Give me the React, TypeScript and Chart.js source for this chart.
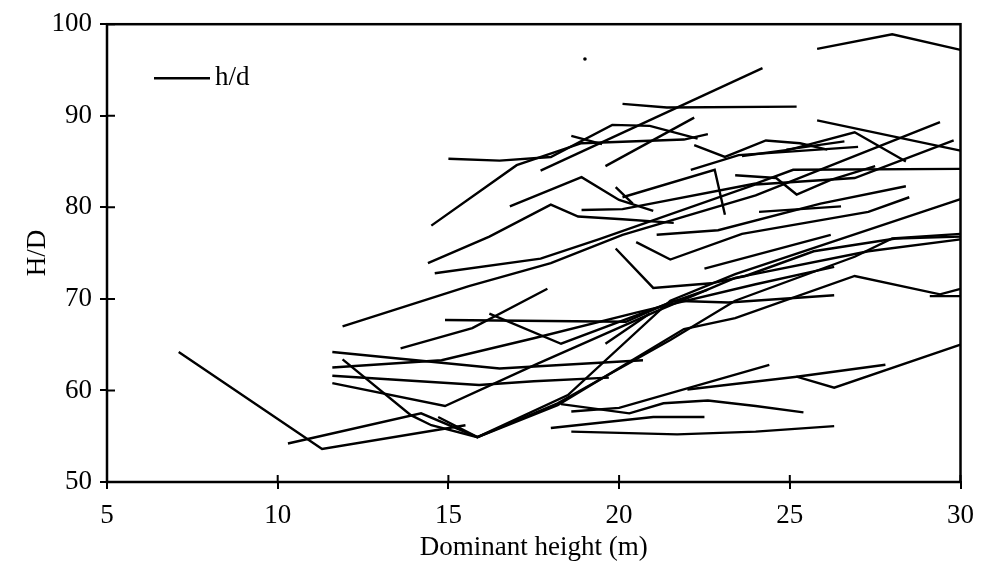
import React, { useEffect, useRef } from "react";
import { Chart, registerables } from "chart.js";
Chart.register(...registerables);

const xTicks = [5, 10, 15, 20, 25, 30];
const yTicks = [50, 60, 70, 80, 90, 100];
const legendLabel = "h/d";
const xTitle = "Dominant height (m)";
const yTitle = "H/D";

// each plot: [dominant height, H/D]
const s01 = [[7.1, 64.2], [11.3, 53.6], [15.5, 56.2]];
const s02 = [[10.3, 54.2], [14.2, 57.5], [15.85, 54.9], [18.2, 58.6], [21.5, 65.5], [23.4, 69.8], [26.9, 74.6], [28.0, 76.6], [30, 77.1]];
const s03 = [[11.9, 63.4], [13.9, 57.3], [14.5, 56.2], [15.85, 54.9], [18.2, 58.4], [21.9, 66.7], [23.4, 67.9], [26.9, 72.5], [29.4, 70.5], [30, 71.1]];
const s04 = [[14.7, 57.1], [15.85, 54.9], [18.5, 59.5], [21.5, 69.8], [23.4, 72.7], [30, 80.9]];
const s05 = [[11.6, 60.8], [14.9, 58.3], [17.6, 62.9], [21.0, 68.5], [23.4, 72.3], [27.3, 75.2], [30, 76.5]];
const s06 = [[11.6, 64.2], [16.5, 62.4], [20.7, 63.3]];
const s07 = [[11.6, 62.5], [14.8, 63.3], [17.5, 65.7], [20.5, 68.5], [24.0, 71.6], [26.3, 73.5]];
const s08 = [[11.6, 61.6], [15.9, 60.6], [17.5, 61.0], [19.7, 61.4]];
const s10 = [[14.6, 72.8], [17.7, 74.4], [19.4, 76.5], [24.0, 82.5], [26.9, 83.2], [29.8, 87.3]];
const s11 = [[11.9, 67.0], [15.6, 71.4], [18.0, 73.9], [20.1, 77.0], [24.0, 81.3], [29.4, 89.3]];
const s12 = [[14.4, 73.9], [16.2, 76.8], [18.0, 80.3], [18.8, 79.0], [20.1, 78.7], [21.6, 78.3]];
const s13 = [[13.6, 64.6], [15.7, 66.8], [17.9, 71.1]];
const s14 = [[14.9, 67.7], [20.2, 67.5], [21.6, 69.8], [23.2, 69.6], [26.3, 70.4]];
const s15 = [[16.2, 68.4], [18.3, 65.1], [21.5, 69.6], [22.6, 71.0]];
const s16 = [[19.6, 65.1], [20.9, 68.4]];
const s17 = [[18.0, 55.9], [21.0, 57.1], [22.5, 57.1]];
const s18 = [[18.6, 55.5], [21.7, 55.2], [24.0, 55.5], [26.3, 56.1]];
const s19 = [[18.3, 58.5], [20.3, 57.5], [21.3, 58.6], [22.6, 58.9], [24.0, 58.3], [25.4, 57.6]];
const s20 = [[18.6, 57.7], [20.0, 58.1], [24.4, 62.8]];
const s21 = [[22.0, 60.1], [25.2, 61.5], [26.3, 60.3], [30, 65.0]];
const s22 = [[25.2, 61.5], [27.8, 62.8]];
const s23 = [[14.5, 78.0], [17.0, 84.6], [18.9, 87.0], [21.9, 87.4], [22.6, 88.0]];
const s24 = [[15.0, 85.3], [16.5, 85.1], [18.0, 85.5], [19.8, 89.0], [20.9, 88.9], [22.3, 87.5]];
const s25 = [[18.6, 87.8], [19.5, 86.9]];
const s26 = [[17.7, 84.0], [24.2, 95.2]];
const s27 = [[20.1, 91.3], [21.4, 90.9], [25.2, 91.0]];
const s28 = [[19.6, 84.5], [22.2, 89.8]];
const s29 = [[25.8, 97.3], [28.0, 98.9], [30, 97.2]];
const s30 = [[25.8, 89.5], [30, 86.2]];
const s31 = [[22.2, 86.8], [23.1, 85.5], [24.3, 87.3], [25.3, 87.0], [26.1, 86.3]];
const s32 = [[24.9, 86.3], [26.6, 87.2]];
const s33 = [[22.1, 84.1], [23.5, 85.7], [27.0, 86.6]];
const s34 = [[23.6, 85.6], [25.0, 86.3], [26.9, 88.2], [28.4, 85.0]];
const s35 = [[23.4, 83.5], [24.6, 83.2], [25.2, 81.4], [26.2, 83.0], [27.5, 84.5]];
const s36 = [[16.8, 80.1], [18.9, 83.3], [20.0, 80.8], [21.0, 79.6]];
const s37 = [[19.9, 82.2], [20.4, 80.4]];
const s38 = [[18.9, 79.7], [20.1, 79.8], [24.0, 82.6], [25.1, 84.1], [30, 84.2]];
const s39 = [[20.1, 81.1], [22.8, 84.1], [23.1, 79.2]];
const s40 = [[19.9, 75.5], [21.0, 71.2], [22.7, 71.7], [23.7, 72.5], [25.7, 75.2], [28.1, 76.6], [30, 76.8]];
const s41 = [[20.5, 76.2], [21.5, 74.3], [23.6, 77.1], [27.3, 79.5], [28.5, 81.1]];
const s42 = [[21.1, 77.0], [22.9, 77.5], [25.9, 80.4], [28.4, 82.3]];
const s43 = [[22.5, 73.3], [26.2, 77.0]];
const s44 = [[24.1, 79.5], [26.5, 80.1]];
const s45 = [[29.1, 70.3], [30, 70.3]];
const strayDot = [[19.0, 96.2]];

const plots = [s01, s02, s03, s04, s05, s06, s07, s08, s10, s11, s12, s13, s14, s15, s16, s17, s18, s19, s20, s21, s22,
  s23, s24, s25, s26, s27, s28, s29, s30, s31, s32, s33, s34, s35, s36, s37, s38, s39, s40, s41, s42, s43, s44, s45];

const FONT = "'Liberation Serif', 'Times New Roman', serif";
const FS = 27;

export default function App() {
  const ref = useRef<HTMLCanvasElement>(null);
  useEffect(() => {
    const frame = {
      id: "frame",
      afterDatasetsDraw(chart: any) {
        const { ctx, chartArea: a, scales } = chart;
        ctx.save();
        ctx.strokeStyle = "#000";
        ctx.lineWidth = 2.5;
        ctx.strokeRect(a.left, a.top, a.right - a.left, a.bottom - a.top);
        ctx.lineWidth = 2;
        ctx.beginPath();
        for (const v of xTicks) {
          const px = scales.x.getPixelForValue(v);
          ctx.moveTo(px, a.bottom);
          ctx.lineTo(px, a.bottom - 7);
        }
        for (const v of yTicks) {
          const py = scales.y.getPixelForValue(v);
          ctx.moveTo(a.left, py);
          ctx.lineTo(a.left + 8, py);
        }
        ctx.stroke();
        // legend
        const ly = a.top + 54;
        ctx.lineWidth = 2.4;
        ctx.beginPath();
        ctx.moveTo(a.left + 47, ly);
        ctx.lineTo(a.left + 103, ly);
        ctx.stroke();
        ctx.fillStyle = "#000";
        ctx.font = `${FS}px ${FONT}`;
        ctx.textBaseline = "middle";
        ctx.textAlign = "left";
        ctx.fillText(legendLabel, a.left + 108, ly);
        ctx.restore();
      },
    };
    const datasets: any[] = plots.map((p) => ({
      label: legendLabel,
      data: p.map(([x, y]) => ({ x, y })),
      borderColor: "#000",
      borderWidth: 2.4,
      pointRadius: 0,
      fill: false,
      tension: 0,
    }));
    datasets.push({
      type: "scatter",
      label: "dot",
      data: strayDot.map(([x, y]) => ({ x, y })),
      pointRadius: 1.8,
      backgroundColor: "#000",
      borderWidth: 0,
    });
    const chart = new Chart(ref.current as HTMLCanvasElement, {
      type: "line",
      data: { datasets },
      options: {
        responsive: false,
        animation: false,
        layout: { padding: { top: 21, right: 19, left: 0, bottom: 0 } },
        plugins: { legend: { display: false }, tooltip: { enabled: false } },
        scales: {
          x: {
            type: "linear",
            min: 5,
            max: 30,
            afterBuildTicks: (s: any) => {
              s.ticks = xTicks.map((v) => ({ value: v }));
            },
            afterFit: (s: any) => {
              s.height = 93;
            },
            grid: { drawOnChartArea: false, color: "#000", tickLength: 7, lineWidth: 2 },
            border: { color: "#000", width: 2 },
            ticks: { color: "#000", font: { family: FONT, size: FS }, padding: 11, maxRotation: 0 },
            title: { display: true, text: xTitle, color: "#000", font: { family: FONT, size: FS }, padding: { top: 0, bottom: 11 } },
          },
          y: {
            type: "linear",
            min: 50,
            max: 100,
            afterBuildTicks: (s: any) => {
              s.ticks = yTicks.map((v) => ({ value: v }));
            },
            afterFit: (s: any) => {
              s.width = 107;
            },
            grid: { drawOnChartArea: false, color: "#000", tickLength: 7, lineWidth: 2 },
            border: { color: "#000", width: 2 },
            ticks: { color: "#000", font: { family: FONT, size: FS }, padding: 8 },
            title: { display: true, text: yTitle, color: "#000", font: { family: FONT, size: FS }, padding: { top: 22, bottom: 0 } },
          },
        },
      } as any,
      plugins: [frame],
    });
    return () => chart.destroy();
  }, []);
  return (
    <canvas
      ref={ref}
      width={985}
      height={575}
      style={{ position: "fixed", left: 0, top: 0, width: 985, height: 575 }}
    />
  );
}
